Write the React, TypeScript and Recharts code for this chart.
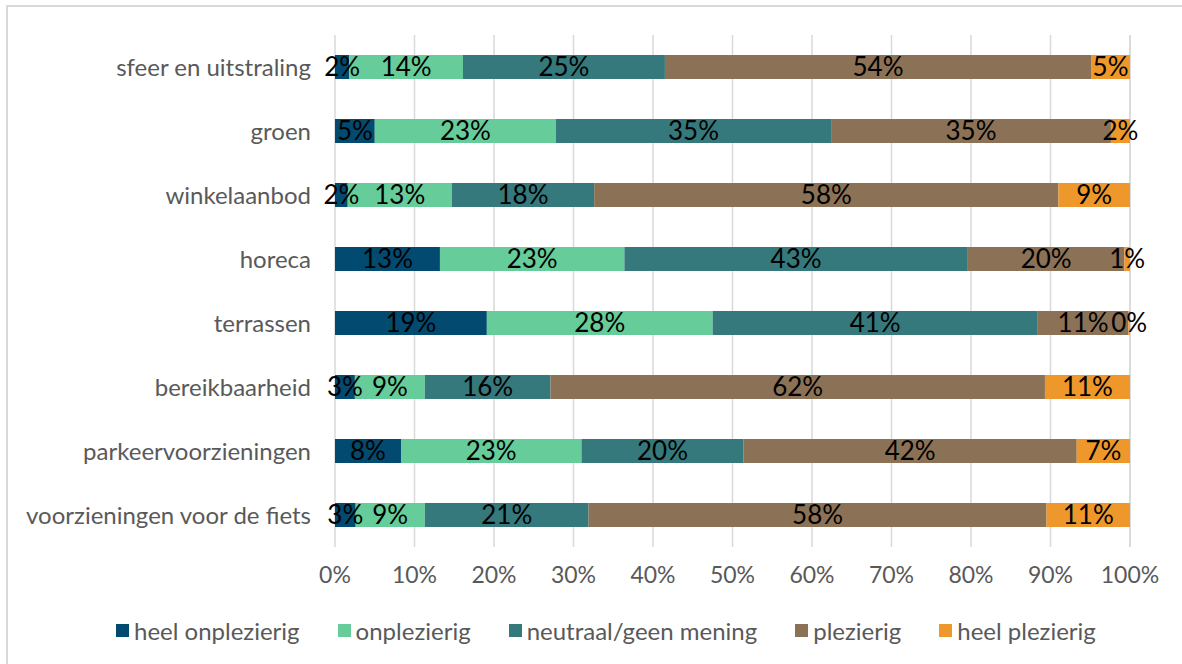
import { BarChart, Bar, XAxis, YAxis, CartesianGrid, LabelList } from "recharts";

const categories = [
  "sfeer en uitstraling",
  "groen",
  "winkelaanbod",
  "horeca",
  "terrassen",
  "bereikbaarheid",
  "parkeervoorzieningen",
  "voorzieningen voor de fiets",
];

const heelOnplezierig = [1.8, 5.0, 1.6, 13.2, 19.1, 2.5, 8.3, 2.6];
const onplezierig = [14.3, 22.8, 13.1, 23.2, 28.4, 8.8, 22.7, 8.7];
const neutraal = [25.4, 34.6, 17.9, 43.2, 40.9, 15.8, 20.4, 20.6];
const plezierig = [53.6, 35.2, 58.4, 19.7, 11.4, 62.2, 41.9, 57.6];
const heelPlezierig = [4.9, 2.4, 9.0, 0.7, 0.2, 10.7, 6.7, 10.5];

const xTicks = [0, 10, 20, 30, 40, 50, 60, 70, 80, 90, 100];

const series = [
  { key: "heelOnplezierig", name: "heel onplezierig", color: "#024A6F" },
  { key: "onplezierig", name: "onplezierig", color: "#66CC99" },
  { key: "neutraal", name: "neutraal/geen mening", color: "#35797C" },
  { key: "plezierig", name: "plezierig", color: "#8B7156" },
  { key: "heelPlezierig", name: "heel plezierig", color: "#EE982B" },
];

const data = categories.map((name, i) => ({
  name,
  heelOnplezierig: heelOnplezierig[i],
  onplezierig: onplezierig[i],
  neutraal: neutraal[i],
  plezierig: plezierig[i],
  heelPlezierig: heelPlezierig[i],
}));

const font = "Lato, 'Open Sans', sans-serif";

const ChartLegend = () => (
  <div
    style={{
      position: "absolute",
      left: 116,
      top: 616,
      display: "flex",
      gap: 38,
      fontFamily: font,
      fontSize: 24,
      color: "#595959",
      whiteSpace: "nowrap",
    }}
  >
    {series.map((s) => (
      <div key={s.key} style={{ display: "flex", alignItems: "center" }}>
        <span
          style={{ width: 13, height: 13, background: s.color, marginRight: 5, display: "inline-block" }}
        />
        <span>{s.name}</span>
      </div>
    ))}
  </div>
);

const App = () => {
  return (
    <div
      style={{
        position: "absolute",
        left: 0,
        top: 0,
        width: 1182,
        height: 664,
        background: "#fff",
        overflow: "hidden",
      }}
    >
      <div
        style={{
          position: "absolute",
          left: 6,
          top: 5,
          width: 1200,
          height: 700,
          borderLeft: "2px solid #D9D9D9",
          borderTop: "2px solid #D9D9D9",
        }}
      />
      <BarChart
        width={1182}
        height={664}
        layout="vertical"
        data={data}
        margin={{ top: 35, right: 52, left: 0, bottom: 87 }}
        barCategoryGap={20}
        style={{ fontFamily: font }}
      >
        <CartesianGrid horizontal={false} stroke="#D9D9D9" strokeWidth={1.5} />
        <XAxis
          type="number"
          domain={[0, 100]}
          ticks={xTicks}
          tickFormatter={(v) => `${v}%`}
          axisLine={false}
          tickLine={false}
          tickMargin={14}
          tick={{ fill: "#595959", fontSize: 23 }}
          interval={0}
        />
        <YAxis
          type="category"
          dataKey="name"
          width={335}
          axisLine={false}
          tickLine={false}
          tickMargin={18}
          tick={{ fill: "#595959", fontSize: 24 }}
          interval={0}
        />
        {series.map((s) => (
          <Bar
            key={s.key}
            dataKey={s.key}
            name={s.name}
            stackId="a"
            fill={s.color}
            isAnimationActive={false}
          >
            <LabelList
              dataKey={s.key}
              position="center"
              formatter={(v: number) => `${Math.round(v)}%`}
              fill="#000"
              fontSize={26}
              fontFamily={font}
            />
          </Bar>
        ))}
      </BarChart>
      <ChartLegend />
    </div>
  );
};

export default App;
